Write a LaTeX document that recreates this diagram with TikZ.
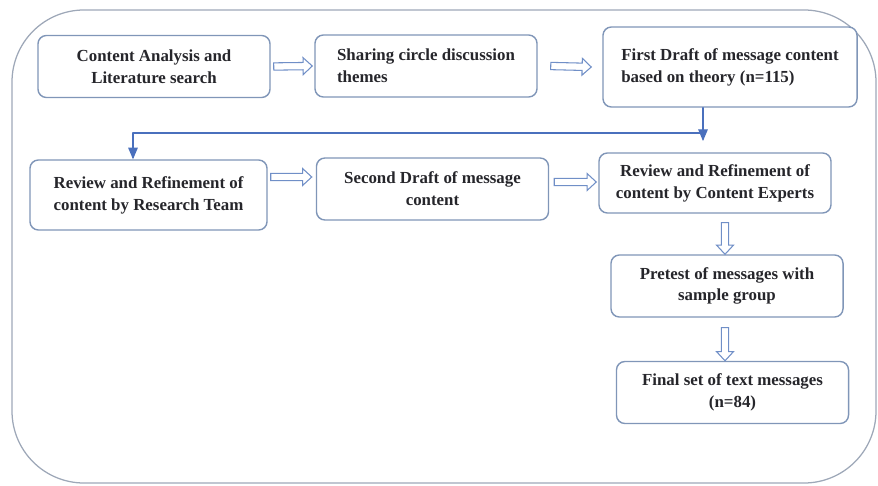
\documentclass[tikz,border=0pt]{standalone}
\usepackage{fontspec}
\setmainfont{Liberation Serif}
\usetikzlibrary{arrows,calc}
\definecolor{uuwwbb}{rgb}{0.50,0.59,0.72}
\definecolor{uuttcc}{rgb}{0.29,0.44,0.74}
\definecolor{wwzzcc}{rgb}{0.44,0.56,0.78}
\definecolor{zzzzbb}{rgb}{0.62,0.66,0.72}
\definecolor{ttttuu}{rgb}{0.15,0.15,0.17}
\tikzset{
  stage/.style={draw=uuwwbb,line width=1pt,rounded corners=6pt,fill=white,
    text=ttttuu,font=\bfseries\fontsize{12}{15.5}\selectfont,
    minimum width=5.8cm,minimum height=1.55cm,inner sep=2pt},
  hollow/.style={draw=wwzzcc,line width=0.75pt,fill=white,line join=miter,
    to path={let \p1=(\tikztostart),\p2=(\tikztotarget),
      \n1={atan2(\y2-\y1,\x2-\x1)} in
      ($(\p1)+(\n1+90:2.6pt)$) -- ($(\p2)+(\n1+180:6.5pt)+(\n1+90:2.6pt)$)
      -- ($(\p2)+(\n1+180:6.5pt)+(\n1+90:6pt)$) -- (\p2)
      -- ($(\p2)+(\n1+180:6.5pt)+(\n1-90:6pt)$)
      -- ($(\p2)+(\n1+180:6.5pt)+(\n1-90:2.6pt)$)
      -- ($(\p1)+(\n1-90:2.6pt)$) -- cycle}},
  link/.style={draw=uuttcc,line width=0.9pt}
}
\begin{document}
\begin{tikzpicture}[line cap=round,line join=round,>=triangle 45,x=0.025cm,y=-0.025cm]
\useasboundingbox (0,0) rectangle (878,485);
\draw [color=zzzzbb,line width=0.9pt,rounded corners=1.8cm] (12,10) rectangle (876,483);
% stages
\node[stage,align=center] (b1) at (154,66.5) {Content Analysis and\\Literature search};
\node[stage,align=left,minimum width=5.55cm] (b2) at (426,66) {Sharing circle discussion\\themes};
\node[stage,align=left,minimum width=6.35cm,minimum height=2cm] (b3) at (730,67) {First Draft of message content\\based on theory (n=115)};
\node[stage,align=left,minimum width=5.925cm,minimum height=1.75cm] (b4) at (148.5,195) {Review and Refinement of\\content by Research Team};
\node[stage,align=center] (b5) at (432.5,189) {Second Draft of message\\content};
\node[stage,align=center,minimum height=1.5cm] (b6) at (715,183) {Review and Refinement of\\content by Content Experts};
\node[stage,align=center] (b7) at (727,286) {Pretest of messages with\\sample group};
\node[stage,align=center] (b8) at (732.5,392.5) {Final set of text messages\\(n=84)};
% hollow arrows
\draw[hollow] ($(b1.east)+(3,0)$) to ($(b2.west)+(-2,0)$);
\draw[hollow] ($(b2.east)+(13,0)$) to ($(b3.west)+(-11,0)$);
\draw[hollow] ($(b4.east)+(3,-18)$) to ($(b5.west)+(-4,-12)$);
\draw[hollow] ($(b5.east)+(5,-7)$) to ($(b6.west)+(-2,-1)$);
\draw[hollow] ($(b6.south)+(10,9)$) to ($(b7.north)+(-2,0)$);
\draw[hollow] ($(b7.south)+(-2,10)$) to ($(b8.north)+(-7.5,0)$);
% back link
\coordinate (bend) at (703,133);
\coordinate (drop) at (133,133);
\coordinate (dip) at (703,141);
\draw[link,->] (b3.south -| dip) -- (dip);
\draw[link,->] (bend) -- (drop) -- (b4.north -| drop);
\end{tikzpicture}
\end{document}
